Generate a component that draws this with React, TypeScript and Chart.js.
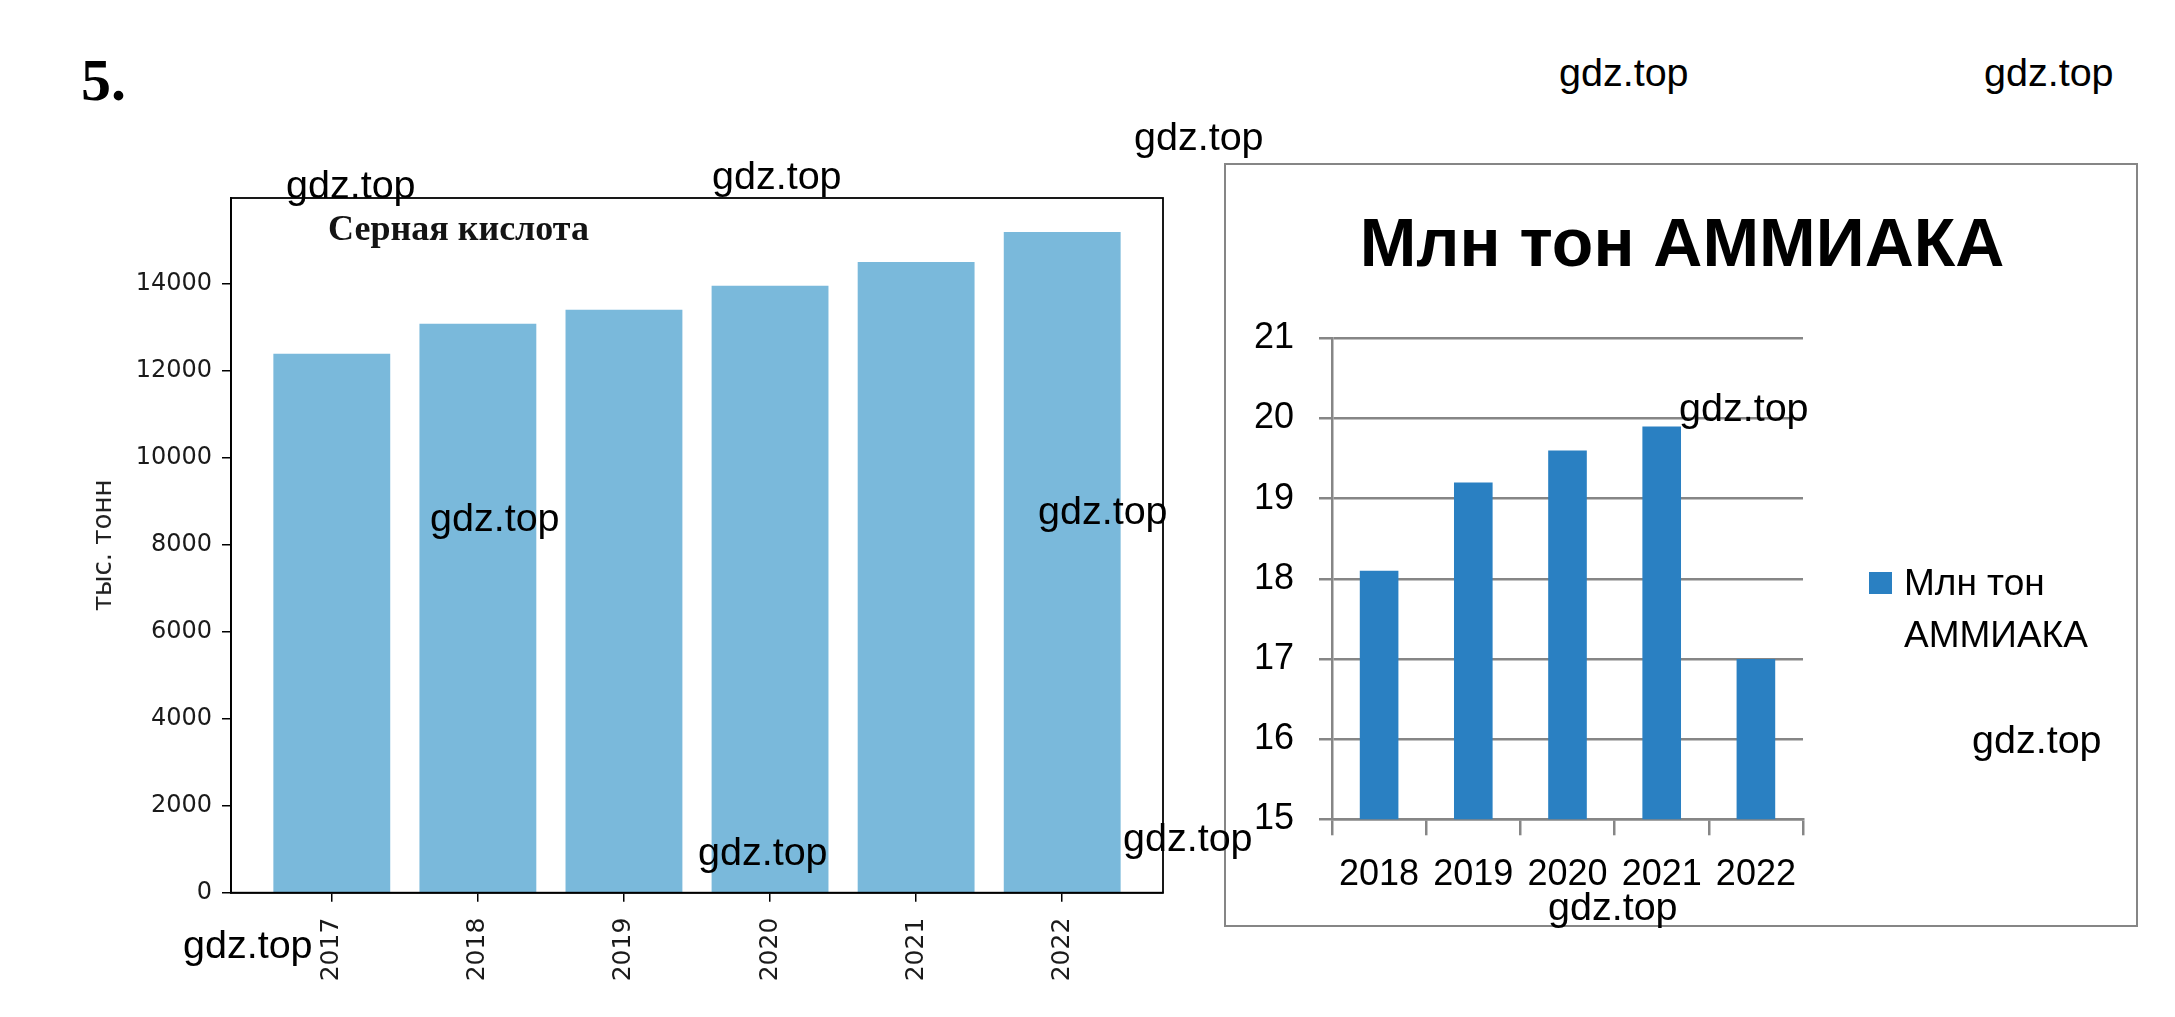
import React, { useEffect, useRef } from 'react';
import { Chart, registerables } from 'chart.js';

Chart.register(...registerables);

// ---------- data: left chart (Серная кислота) ----------
const SULFURIC_YEARS = ['2017', '2018', '2019', '2020', '2021', '2022'];
const SULFURIC_VALUES = [12390, 13080, 13400, 13950, 14500, 15190];
const SULFURIC_Y_TICKS = [0, 2000, 4000, 6000, 8000, 10000, 12000, 14000];
const SULFURIC_Y_MAX = 15970;
const SULFURIC_TITLE = 'Серная кислота';
const SULFURIC_Y_LABEL = 'тыс. тонн';

// ---------- data: right chart (АММИАК) ----------
const AMMONIA_YEARS = ['2018', '2019', '2020', '2021', '2022'];
const AMMONIA_VALUES = [18.1, 19.2, 19.6, 19.9, 17.0];
const AMMONIA_Y_MIN = 15;
const AMMONIA_Y_MAX = 21;
const AMMONIA_TITLE = 'Млн тон АММИАКА';
const AMMONIA_SERIES = 'Млн тон АММИАКА';

// ---------- page texts ----------
const TASK_NUMBER = '5.';
const WATERMARK = 'gdz.top';
const WATERMARK_SPOTS: [number, number][] = [
  [1559, 53], [1984, 53], [1134, 117], [286, 165], [712, 156],
  [430, 498], [1038, 491], [698, 832], [1123, 818], [183, 925],
  [1679, 388], [1972, 720], [1548, 887],
];

function SulfuricChart() {
  const ref = useRef<HTMLCanvasElement>(null);
  useEffect(() => {
    const canvas = ref.current;
    if (!canvas) return;
    const framePlugin = {
      id: 'mplFrame',
      afterDatasetsDraw(chart: any) {
        const { ctx, chartArea: ca } = chart;
        ctx.save();
        ctx.strokeStyle = '#000';
        ctx.lineWidth = 1.8;
        ctx.strokeRect(ca.left, ca.top, ca.right - ca.left, ca.bottom - ca.top);
        ctx.restore();
      },
      afterDraw(chart: any) {
        const { ctx, chartArea: ca } = chart;
        ctx.save();
        ctx.font = 'bold 36px "Liberation Serif", serif';
        ctx.fillStyle = '#141414';
        ctx.textAlign = 'left';
        ctx.textBaseline = 'alphabetic';
        ctx.fillText(SULFURIC_TITLE, ca.left + 97, ca.top + 42);
        ctx.restore();
      },
    };
    const chart = new Chart(canvas, {
      type: 'bar',
      data: {
        datasets: [
          {
            label: SULFURIC_TITLE,
            data: SULFURIC_VALUES.map((v, i) => ({ x: i, y: v })),
            backgroundColor: '#7ab9db',
            borderWidth: 0,
            barPercentage: 0.8,
            categoryPercentage: 1,
          },
        ],
      },
      options: {
        responsive: false,
        animation: false,
        layout: { padding: { left: 85, top: 198, right: 17, bottom: 0 } },
        plugins: {
          legend: { display: false },
          tooltip: { enabled: false },
          title: { display: false },
        },
        scales: {
          x: {
            type: 'linear',
            min: -0.69,
            max: SULFURIC_YEARS.length - 1 + 0.69,
            offset: false,
            afterBuildTicks: (s: any) => {
              s.ticks = SULFURIC_YEARS.map((_, i) => ({ value: i }));
            },
            afterFit: (s: any) => {
              s.height = 1010 - 892.7;
            },
            grid: {
              display: true,
              drawOnChartArea: false,
              drawTicks: true,
              tickLength: 9,
              color: '#000',
              lineWidth: 1.5,
              offset: false,
            },
            border: { display: true, color: '#000', width: 1.8 },
            ticks: {
              autoSkip: false,
              minRotation: 90,
              maxRotation: 90,
              padding: 16,
              color: '#1a1a1a',
              font: { family: '"DejaVu Sans"', size: 25 },
              callback: (v: any) => SULFURIC_YEARS[v as number] ?? '',
            },
          },
          y: {
            min: 0,
            max: SULFURIC_Y_MAX,
            afterBuildTicks: (s: any) => {
              s.ticks = SULFURIC_Y_TICKS.map((v) => ({ value: v }));
            },
            afterFit: (s: any) => {
              s.width = 146;
            },
            grid: {
              display: true,
              drawOnChartArea: false,
              drawTicks: true,
              tickLength: 9,
              color: '#000',
              lineWidth: 1.5,
            },
            border: { display: true, color: '#000', width: 1.8 },
            ticks: {
              padding: 10,
              color: '#1a1a1a',
              font: { family: '"DejaVu Sans"', size: 24 },
              callback: (v: any) => String(v),
            },
            title: {
              display: true,
              text: SULFURIC_Y_LABEL,
              color: '#222',
              font: { family: '"DejaVu Sans"', size: 26 },
              padding: { top: 4, bottom: 0 },
            },
          },
        },
      },
      plugins: [framePlugin],
    } as any);
    return () => chart.destroy();
  }, []);
  return (
    <canvas
      ref={ref}
      width={1180}
      height={1010}
      style={{ position: 'absolute', left: 0, top: 0, width: 1180, height: 1010 }}
    />
  );
}

function AmmoniaChart() {
  const ref = useRef<HTMLCanvasElement>(null);
  useEffect(() => {
    const canvas = ref.current;
    if (!canvas) return;
    const deco = {
      id: 'excelDeco',
      afterDraw(chart: any) {
        const { ctx, chartArea: ca, width } = chart;
        ctx.save();
        // title
        ctx.font = 'bold 68px "Liberation Sans", sans-serif';
        ctx.fillStyle = '#000';
        ctx.textAlign = 'center';
        ctx.textBaseline = 'alphabetic';
        ctx.fillText(AMMONIA_TITLE, width / 2 + 1, 101);
        // legend
        const ds = chart.data.datasets[0];
        const cy = (ca.top + ca.bottom) / 2;
        const x0 = ca.right + 66;
        ctx.fillStyle = ds.backgroundColor;
        ctx.fillRect(x0, cy - 6.8, 23, 22);
        ctx.font = '37px "Liberation Sans", sans-serif';
        ctx.fillStyle = '#000';
        ctx.textAlign = 'left';
        const maxW = width - (x0 + 36) - 10;
        const words = String(ds.label).split(' ');
        const lines: string[] = [];
        let cur = '';
        for (const w of words) {
          const t = cur ? cur + ' ' + w : w;
          if (cur && ctx.measureText(t).width > maxW) {
            lines.push(cur);
            cur = w;
          } else cur = t;
        }
        if (cur) lines.push(cur);
        lines.forEach((ln, i) => ctx.fillText(ln, x0 + 35, cy + 16.5 + i * 52));
        ctx.restore();
      },
    };
    const grey = '#868686';
    const chart = new Chart(canvas, {
      type: 'bar',
      data: {
        labels: AMMONIA_YEARS,
        datasets: [
          {
            label: AMMONIA_SERIES,
            data: AMMONIA_VALUES,
            backgroundColor: '#2a80c2',
            borderWidth: 0,
            barPercentage: 0.41,
            categoryPercentage: 1,
          },
        ],
      },
      options: {
        responsive: false,
        animation: false,
        layout: { padding: { left: 20, top: 173.3, right: 333, bottom: 0 } },
        plugins: {
          legend: { display: false },
          tooltip: { enabled: false },
          title: { display: false },
        },
        scales: {
          x: {
            type: 'category',
            offset: true,
            afterFit: (s: any) => {
              s.height = 760 - 654.3;
            },
            grid: {
              display: true,
              drawOnChartArea: false,
              drawTicks: true,
              tickLength: 16,
              color: grey,
              lineWidth: 2.5,
              offset: true,
            },
            border: { display: true, color: grey, width: 2.5 },
            ticks: {
              autoSkip: false,
              maxRotation: 0,
              minRotation: 0,
              padding: 18,
              color: '#000',
              font: { family: '"Liberation Sans"', size: 36 },
            },
          },
          y: {
            min: AMMONIA_Y_MIN,
            max: AMMONIA_Y_MAX,
            afterFit: (s: any) => {
              s.width = 86;
            },
            grid: {
              display: true,
              drawTicks: true,
              tickLength: 13,
              color: grey,
              lineWidth: 2.5,
            },
            border: { display: true, color: grey, width: 2.5 },
            ticks: {
              stepSize: 1,
              padding: 25,
              color: '#000',
              font: { family: '"Liberation Sans"', size: 36 },
            },
          },
        },
      },
      plugins: [deco],
    } as any);
    return () => chart.destroy();
  }, []);
  return (
    <div
      style={{
        position: 'absolute',
        left: 1224,
        top: 163,
        width: 914,
        height: 764,
        border: '2px solid #868686',
        boxSizing: 'border-box',
        background: '#fff',
      }}
    >
      <canvas ref={ref} width={910} height={760} style={{ display: 'block', width: 910, height: 760 }} />
    </div>
  );
}

export default function App() {
  return (
    <div>
      <SulfuricChart />
      <AmmoniaChart />
      <div
        style={{
          position: 'absolute',
          left: 81,
          top: 50,
          font: 'bold 60px/60px "Liberation Serif", serif',
          color: '#000',
          zIndex: 3,
        }}
      >
        {TASK_NUMBER}
      </div>
      {WATERMARK_SPOTS.map(([x, y], i) => (
        <div
          key={i}
          style={{
            position: 'absolute',
            left: x,
            top: y,
            font: '39.5px/39.5px "Liberation Sans", sans-serif',
            color: '#000',
            whiteSpace: 'nowrap',
            pointerEvents: 'none',
            zIndex: 4,
          }}
        >
          {WATERMARK}
        </div>
      ))}
    </div>
  );
}
